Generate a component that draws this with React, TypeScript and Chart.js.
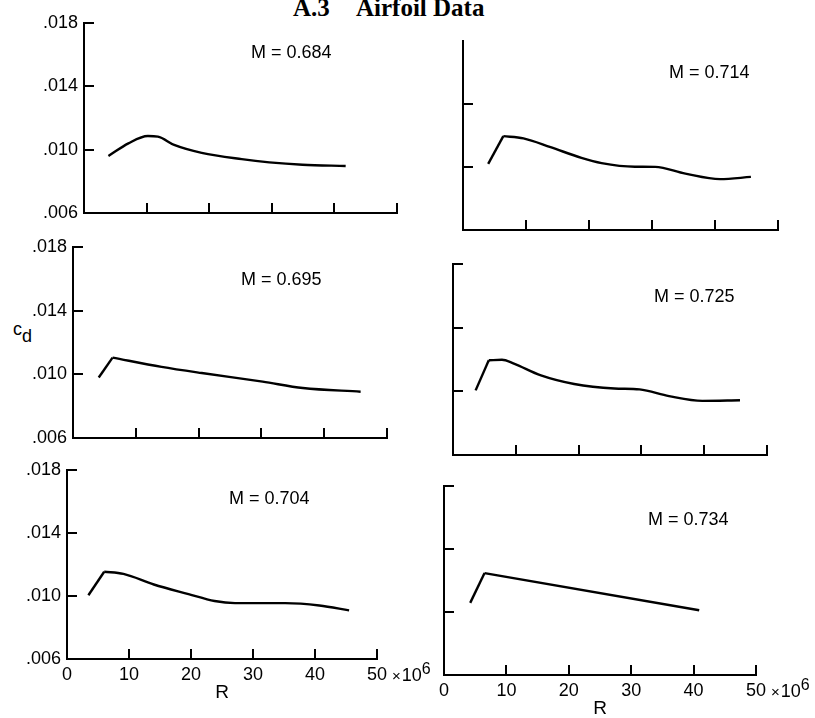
import React, { useEffect, useRef } from "react";
import { Chart, registerables } from "chart.js";

Chart.register(...registerables);

// ---- axis ticks ----
const X_TICKS = [0, 10, 20, 30, 40, 50];
const Y_TICKS = [0.006, 0.01, 0.014, 0.018];

// ---- M = 0.684 ----
const R_684 = [3.9, 7.1, 10.2, 11.8, 14.4, 18.8, 25.2, 29.6, 34.9, 41.8];
const CD_684 = [0.0096, 0.0104, 0.01086, 0.01082, 0.0103, 0.0098, 0.0094, 0.0092, 0.00905, 0.00897];

// ---- M = 0.714 ----
const R_714_RISE = [4.0, 6.4];
const CD_714_RISE = [0.0102, 0.01196];
const R_714 = [6.4, 9.6, 13.9, 18.8, 22.0, 27.3, 30.5, 35.3, 40.8, 45.7];
const CD_714 = [0.01196, 0.01182, 0.01126, 0.01058, 0.01025, 0.01002, 0.01001, 0.00958, 0.00923, 0.00937];

// ---- M = 0.695 ----
const R_695_RISE = [4.1, 6.3];
const CD_695_RISE = [0.0098, 0.01105];
const R_695 = [6.3, 14.1, 20.5, 30.2, 36.6, 45.8];
const CD_695 = [0.01105, 0.01047, 0.01008, 0.00954, 0.00914, 0.00891];

// ---- M = 0.725 ----
const R_725_RISE = [3.6, 5.7];
const CD_725_RISE = [0.01006, 0.01195];
const R_725 = [5.7, 7.8, 9.6, 14.0, 19.3, 25.7, 29.7, 34.4, 39.7, 45.7];
const CD_725 = [0.01195, 0.01198, 0.01176, 0.011, 0.01046, 0.01018, 0.01012, 0.0097, 0.0094, 0.00944];

// ---- M = 0.704 ----
const R_704_RISE = [3.45, 6.0];
const CD_704_RISE = [0.01005, 0.01154];
const R_704 = [6.0, 9.1, 14.0, 19.6, 23.8, 27.1, 35.2, 40.7, 45.5];
const CD_704 = [0.01154, 0.0114, 0.01073, 0.01012, 0.00968, 0.00955, 0.00955, 0.0094, 0.00909];

// ---- M = 0.734 ----
const R_734_RISE = [4.2, 6.5];
const CD_734_RISE = [0.01058, 0.01247];
const R_734 = [6.5, 40.9];
const CD_734 = [0.01247, 0.01011];

const SANS = '"Liberation Sans", Arial, Helvetica, sans-serif';

type Series = { r: number[]; cd: number[]; smooth: boolean };
type PanelSpec = {
  m: string;
  ox: number;
  oy: number;
  w: number;
  h: number;
  yLabels: boolean;
  xLabels: boolean;
  cap: boolean;
  series: Series[];
  mLeft: number;
  mTop: number;
};

const PANELS: PanelSpec[] = [
  {
    m: "M = 0.684", ox: 84, oy: 213, w: 313, h: 190, yLabels: true, xLabels: false, cap: true,
    series: [{ r: R_684, cd: CD_684, smooth: true }], mLeft: 251, mTop: 42,
  },
  {
    m: "M = 0.714", ox: 463, oy: 230, w: 315, h: 189, yLabels: false, xLabels: false, cap: false,
    series: [
      { r: R_714_RISE, cd: CD_714_RISE, smooth: false },
      { r: R_714, cd: CD_714, smooth: true },
    ],
    mLeft: 669, mTop: 62,
  },
  {
    m: "M = 0.695", ox: 73, oy: 438, w: 314, h: 191, yLabels: true, xLabels: false, cap: true,
    series: [
      { r: R_695_RISE, cd: CD_695_RISE, smooth: false },
      { r: R_695, cd: CD_695, smooth: true },
    ],
    mLeft: 241, mTop: 269,
  },
  {
    m: "M = 0.725", ox: 453, oy: 455, w: 314, h: 191, yLabels: false, xLabels: false, cap: true,
    series: [
      { r: R_725_RISE, cd: CD_725_RISE, smooth: false },
      { r: R_725, cd: CD_725, smooth: true },
    ],
    mLeft: 654, mTop: 286,
  },
  {
    m: "M = 0.704", ox: 67, oy: 659, w: 310, h: 189, yLabels: true, xLabels: true, cap: true,
    series: [
      { r: R_704_RISE, cd: CD_704_RISE, smooth: false },
      { r: R_704, cd: CD_704, smooth: true },
    ],
    mLeft: 229, mTop: 488,
  },
  {
    m: "M = 0.734", ox: 444, oy: 675, w: 312, h: 189, yLabels: false, xLabels: true, cap: true,
    series: [
      { r: R_734_RISE, cd: CD_734_RISE, smooth: false },
      { r: R_734, cd: CD_734, smooth: false },
    ],
    mLeft: 648, mTop: 509,
  },
];

const inwardTicks = {
  id: "inwardTicks",
  afterDraw(chart: any, _args: any, opts: any) {
    const { ctx, chartArea: a, scales } = chart;
    const x = scales.x;
    const y = scales.y;
    ctx.save();
    ctx.strokeStyle = "#000";
    ctx.lineWidth = 2;
    ctx.beginPath();
    for (const v of X_TICKS) {
      if (v === X_TICKS[0]) continue;
      const px = Math.round(x.getPixelForValue(v));
      ctx.moveTo(px, a.bottom);
      ctx.lineTo(px, a.bottom - 10);
    }
    for (const v of Y_TICKS) {
      if (v === Y_TICKS[0]) continue;
      if (v === Y_TICKS[Y_TICKS.length - 1] && !opts.cap) continue;
      const py = Math.round(y.getPixelForValue(v));
      ctx.moveTo(a.left, py);
      ctx.lineTo(a.left + 10, py);
    }
    ctx.stroke();
    if (opts.exp) {
      const last = X_TICKS[X_TICKS.length - 1];
      const px = x.getPixelForValue(last);
      ctx.fillStyle = "#000";
      ctx.textAlign = "left";
      ctx.textBaseline = "alphabetic";
      ctx.font = `18px ${SANS}`;
      const w50 = ctx.measureText(String(last)).width;
      const base = a.bottom + 5 + 11 + 6;
      let cx = px + w50 / 2 + 5;
      ctx.font = `15px ${SANS}`;
      ctx.fillText("×", cx, base);
      cx += ctx.measureText("×").width + 1;
      ctx.font = `18px ${SANS}`;
      ctx.fillText("10", cx, base);
      cx += ctx.measureText("10").width;
      ctx.font = `16px ${SANS}`;
      ctx.fillText("6", cx, base - 7);
    }
    ctx.restore();
  },
};

function Panel({ spec }: { spec: PanelSpec }) {
  const ref = useRef<HTMLCanvasElement>(null);
  const YW = 55;
  const PT = 8;
  const PR = spec.xLabels ? 62 : 8;
  const XH = spec.xLabels ? 45 : 6;
  const cw = YW + spec.w + PR;
  const ch = PT + spec.h + XH;

  useEffect(() => {
    if (!ref.current) return;
    const datasets = spec.series.map((s) => ({
      data: s.r.map((r, i) => ({ x: r, y: s.cd[i] })),
      borderColor: "#000",
      borderWidth: 2.4,
      pointRadius: 0,
      fill: false,
      tension: 0,
      cubicInterpolationMode: s.smooth ? ("monotone" as const) : ("default" as const),
    }));
    const chart = new Chart(ref.current, {
      type: "line",
      data: { datasets },
      options: {
        animation: false,
        responsive: false,
        maintainAspectRatio: false,
        layout: { padding: { top: PT, right: PR, left: 0, bottom: 0 } },
        plugins: {
          legend: { display: false },
          tooltip: { enabled: false },
          // @ts-ignore
          inwardTicks: { cap: spec.cap, exp: spec.xLabels },
        },
        scales: {
          x: {
            type: "linear",
            min: X_TICKS[0],
            max: X_TICKS[X_TICKS.length - 1],
            afterBuildTicks: (s: any) => {
              s.ticks = X_TICKS.map((v) => ({ value: v }));
            },
            afterFit: (s: any) => {
              s.height = XH;
              s.paddingLeft = 0;
              s.paddingRight = 0;
            },
            grid: { display: false, drawTicks: false },
            border: { display: true, color: "#000", width: 2 },
            ticks: {
              display: spec.xLabels,
              padding: 5,
              maxRotation: 0,
              autoSkip: false,
              color: "#000",
              font: { family: SANS, size: 18 },
              callback: (v: any) => String(v),
            },
            title: {
              display: spec.xLabels,
              text: "R",
              color: "#000",
              font: { family: SANS, size: 19 },
              padding: 0,
            },
          },
          y: {
            type: "linear",
            min: Y_TICKS[0],
            max: Y_TICKS[Y_TICKS.length - 1],
            afterBuildTicks: (s: any) => {
              s.ticks = Y_TICKS.map((v) => ({ value: v }));
            },
            afterFit: (s: any) => {
              s.width = YW;
              s.paddingTop = 0;
              s.paddingBottom = 0;
            },
            grid: { display: false, drawTicks: false },
            border: { display: true, color: "#000", width: 2 },
            ticks: {
              display: spec.yLabels,
              padding: 6,
              color: "#000",
              font: { family: SANS, size: 18 },
              callback: (v: any) => Number(v).toFixed(3).replace(/^0/, ""),
            },
          },
        },
      },
      plugins: [inwardTicks],
    } as any);
    return () => chart.destroy();
  }, []);

  return (
    <canvas
      ref={ref}
      width={cw}
      height={ch}
      style={{
        position: "absolute",
        left: spec.ox - YW,
        top: spec.oy - spec.h - PT,
        width: cw,
        height: ch,
      }}
    />
  );
}

export default function App() {
  return (
    <div
      style={{
        position: "absolute",
        left: 0,
        top: 0,
        width: 815,
        height: 718,
        overflow: "hidden",
        background: "#fff",
        color: "#000",
      }}
    >
      <div
        style={{
          position: "absolute",
          left: 293,
          top: -5,
          font: 'bold 25px "Liberation Serif", "Times New Roman", serif',
          lineHeight: "25px",
          whiteSpace: "nowrap",
        }}
      >
        A.3
      </div>
      <div
        style={{
          position: "absolute",
          left: 356,
          top: -5,
          font: 'bold 25px "Liberation Serif", "Times New Roman", serif',
          lineHeight: "25px",
          whiteSpace: "nowrap",
        }}
      >
        Airfoil Data
      </div>
      <div
        style={{
          position: "absolute",
          left: 13,
          top: 319,
          font: `18px ${SANS}`,
          lineHeight: "20px",
          whiteSpace: "nowrap",
        }}
      >
        c<span style={{ position: "relative", top: 7 }}>d</span>
      </div>
      {PANELS.map((p) => (
        <Panel key={p.m} spec={p} />
      ))}
      {PANELS.map((p) => (
        <div
          key={"lbl" + p.m}
          style={{
            position: "absolute",
            left: p.mLeft,
            top: p.mTop,
            font: `18px ${SANS}`,
            lineHeight: "20px",
            whiteSpace: "nowrap",
          }}
        >
          {p.m}
        </div>
      ))}
    </div>
  );
}
